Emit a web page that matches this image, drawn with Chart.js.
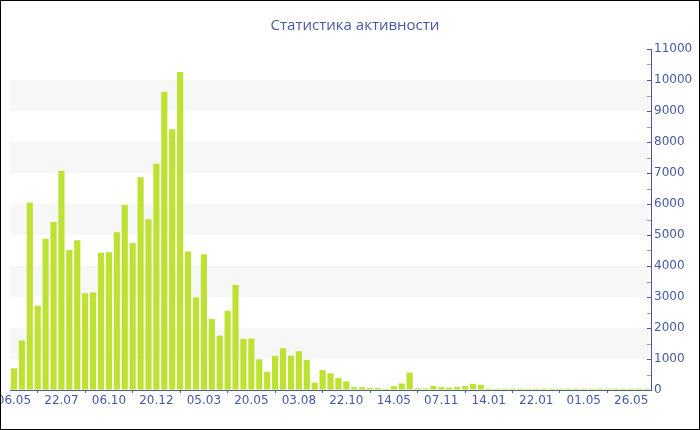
<!DOCTYPE html>
<html>
<head>
<meta charset="utf-8">
<script src="https://cdn.jsdelivr.net/npm/chart.js@4/dist/chart.umd.min.js"></script>
<style>
  html, body { margin: 0; padding: 0; background: #fff; }
  #wrap { width: 700px; height: 430px; }
</style>
</head>
<body>
<div id="wrap"><canvas id="activityChart" width="700" height="430"></canvas></div>
<script>
// Labels shown under the axis, one every 6 bars.
var tickLabels = ['06.05', '22.07', '06.10', '20.12', '05.03', '20.05', '03.08',
  '22.10', '14.05', '07.11', '14.01', '22.01', '01.05', '26.05'];
var tickEvery = 6;

// Activity per period.
var activity = [
  700, 1600, 6050, 2720, 4880, 5420, 7070, 4520, 4830, 3120,
  3150, 4430, 4440, 5090, 5970, 4740, 6860, 5510, 7300, 9620,
  8410, 10260, 4470, 2990, 4380, 2290, 1750, 2560, 3390, 1650,
  1660, 990, 590, 1100, 1350, 1110, 1250, 970, 240, 640,
  540, 390, 280, 90, 90, 70, 70, 40, 120, 210,
  560, 55, 50, 130, 90, 75, 95, 130, 200, 165,
  45, 40, 40, 45, 45, 40, 40, 45, 40, 40,
  45, 45, 40, 40, 45, 40, 45, 40, 40, 45,
  40
];

var yMax = 11000;
var yStep = 1000;

var blue = '#4659a2';
var font = 'DejaVu Sans';

// Category labels: visible ones every 6th bar, blanks in between.
var categories = activity.map(function (v, i) {
  return i % tickEvery === 0 ? (tickLabels[i / tickEvery] || '') : '';
});

/**
 * Striped background bands, small ticks on the right axis and a frame.
 */
var decorPlugin = {
  id: 'decor',
  beforeDatasetsDraw: function (chart) {
    var ctx = chart.ctx;
    var area = chart.chartArea;
    var y = chart.scales.y;
    ctx.save();
    ctx.fillStyle = '#f7f7f7';
    for (var v = yStep; v < yMax; v += 2 * yStep) {
      var top = y.getPixelForValue(v + yStep);
      var bottom = y.getPixelForValue(v);
      ctx.fillRect(area.left, top, area.right - area.left - 3, bottom - top);
    }
    ctx.restore();
  },
  afterDraw: function (chart) {
    var ctx = chart.ctx;
    var y = chart.scales.y;
    var x0 = chart.chartArea.right;
    ctx.save();
    ctx.lineWidth = 1;
    for (var v = yStep / 2; v <= yMax; v += yStep / 2) {
      var py = Math.round(y.getPixelForValue(v)) + 0.5;
      ctx.strokeStyle = (v % yStep === 0) ? blue : '#a0a0a0';
      ctx.beginPath();
      ctx.moveTo(x0 - 4, py);
      ctx.lineTo(x0, py);
      ctx.stroke();
    }
    // Frame.
    ctx.strokeStyle = '#000';
    ctx.strokeRect(0.5, 0.5, chart.width - 1, chart.height - 1);
    ctx.restore();
  }
};

var ctx = document.getElementById('activityChart');

var chartBlock = new Chart(ctx, {
  type: 'bar',
  data: {
    labels: categories,
    datasets: [{
      data: activity,
      backgroundColor: '#bde232',
      borderWidth: 0,
      categoryPercentage: 1,
      barPercentage: 0.78
    }]
  },
  options: {
    responsive: false,
    animation: false,
    layout: {
      padding: { left: 10, right: 0, top: 0, bottom: 0 }
    },
    plugins: {
      legend: { display: false },
      tooltip: { enabled: false },
      title: {
        display: true,
        text: 'Статистика активности',
        color: blue,
        font: { family: 'Open Sans', size: 15, weight: 'normal' },
        padding: { top: 17, bottom: 14 }
      }
    },
    scales: {
      x: {
        offset: true,
        grid: {
          drawOnChartArea: false,
          drawTicks: true,
          tickLength: 3,
          color: blue
        },
        border: { color: blue, width: 1 },
        ticks: {
          autoSkip: false,
          maxRotation: 0,
          minRotation: 0,
          padding: 1,
          color: blue,
          font: { family: font, size: 12 },
          callback: function (value, index) {
            return index % tickEvery === 0 ? categories[index] : null;
          }
        },
        afterFit: function (scale) {
          scale.height = 40;
          scale.paddingLeft = 0;
          scale.paddingRight = 0;
        }
      },
      y: {
        position: 'right',
        min: 0,
        max: yMax,
        grid: { drawOnChartArea: false, drawTicks: false },
        border: { color: blue, width: 1 },
        ticks: {
          stepSize: yStep,
          padding: 3,
          color: blue,
          font: { family: font, size: 12 },
          callback: function (value) {
            return String(value);
          }
        },
        afterFit: function (scale) {
          scale.width = 49;
        }
      }
    }
  },
  plugins: [decorPlugin]
});
</script>
</body>
</html>
